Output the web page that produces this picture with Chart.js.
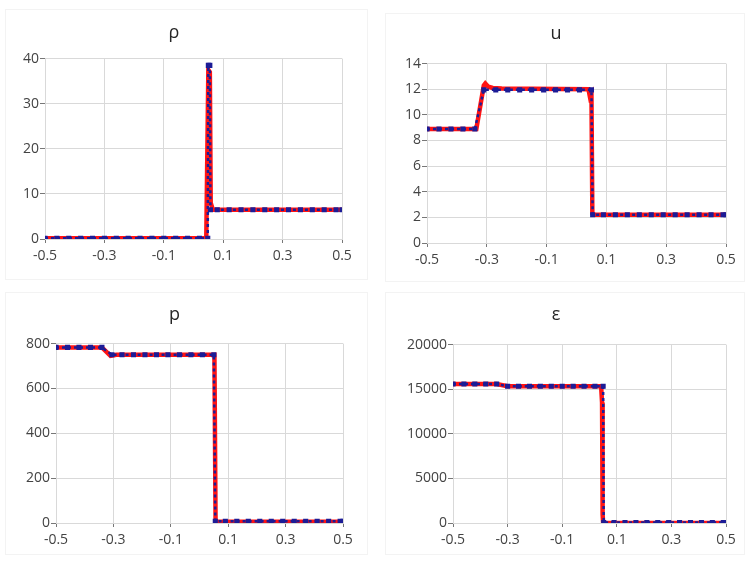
<!DOCTYPE html>
<html>
<head>
<meta charset="utf-8">
<script src="https://cdn.jsdelivr.net/npm/chart.js@4.4.1/dist/chart.umd.min.js"></script>
<style>
  body { margin: 0; background: #fff; width: 748px; height: 562px; position: relative; overflow: hidden; }
  .panel { position: absolute; border: 1px solid #f3f3f3; box-sizing: border-box; }
</style>
</head>
<body>
<div class="panel" style="left:5px;top:9px;width:363px;height:271px"><canvas id="rhoChart"></canvas></div>
<div class="panel" style="left:385px;top:13px;width:360px;height:269px"><canvas id="uChart"></canvas></div>
<div class="panel" style="left:5px;top:292px;width:363px;height:263px"><canvas id="pChart"></canvas></div>
<div class="panel" style="left:385px;top:292px;width:360px;height:263px"><canvas id="eChart"></canvas></div>
<script>
const xTicks = [-0.5, -0.3, -0.1, 0.1, 0.3, 0.5];

// density
const rhoNumX = [-0.5, 0.043, 0.05, 0.055, 0.058, 0.065, 0.5];
const rhoNumY = [0.15, 0.15, 37.5, 37, 8, 6.5, 6.5];
const rhoExactX = [-0.5, -0.46, -0.42, -0.38, -0.34, -0.3, -0.26, -0.22, -0.18, -0.14, -0.1, -0.06, -0.02, 0.02, 0.048,
                   0.05, 0.055, 0.057, 0.08, 0.12, 0.16, 0.2, 0.24, 0.28, 0.32, 0.36, 0.4, 0.44, 0.48, 0.5];
const rhoExactY = [0.15, 0.15, 0.15, 0.15, 0.15, 0.15, 0.15, 0.15, 0.15, 0.15, 0.15, 0.15, 0.15, 0.15, 0.15,
                   38.5, 38.5, 6.5, 6.5, 6.5, 6.5, 6.5, 6.5, 6.5, 6.5, 6.5, 6.5, 6.5, 6.5, 6.5];

// velocity
const uNumX = [-0.5, -0.335, -0.31, -0.305, -0.295, -0.28, -0.25, 0.04, 0.045, 0.05, 0.053, 0.06, 0.5];
const uNumY = [8.9, 8.9, 12.3, 12.45, 12.2, 12.1, 12.05, 12.0, 11.4, 11.6, 2.3, 2.2, 2.2];
const uExactX = [-0.5, -0.46, -0.42, -0.38, -0.34, -0.31, -0.27, -0.23, -0.19, -0.15, -0.11, -0.07, -0.03, 0.01,
                 0.05, 0.054, 0.09, 0.13, 0.17, 0.21, 0.25, 0.29, 0.33, 0.37, 0.41, 0.45, 0.49, 0.5];
const uExactY = [8.9, 8.9, 8.9, 8.9, 8.9, 11.95, 11.95, 11.95, 11.95, 11.95, 11.95, 11.95, 11.95, 11.95,
                 11.95, 2.2, 2.2, 2.2, 2.2, 2.2, 2.2, 2.2, 2.2, 2.2, 2.2, 2.2, 2.2, 2.2];

// pressure
const pNumX = [-0.5, -0.34, -0.31, -0.29, 0.052, 0.056, 0.5];
const pNumY = [783, 783, 745, 750, 750, 6, 6];
const pExactX = [-0.5, -0.46, -0.42, -0.38, -0.34, -0.305, -0.27, -0.23, -0.19, -0.15, -0.11, -0.07, -0.03, 0.01,
                 0.05, 0.055, 0.09, 0.13, 0.17, 0.21, 0.25, 0.29, 0.33, 0.37, 0.41, 0.45, 0.49, 0.5];
const pExactY = [783, 783, 783, 783, 783, 750, 750, 750, 750, 750, 750, 750, 750, 750,
                 750, 8, 8, 8, 8, 8, 8, 8, 8, 8, 8, 8, 8, 8];

// internal energy
const eNumX = [-0.5, -0.34, -0.3, 0.038, 0.043, 0.046, 0.048, 0.05, 0.5];
const eNumY = [15580, 15580, 15330, 15330, 15100, 13500, 1000, 0, 0];
const eExactX = [-0.5, -0.46, -0.42, -0.38, -0.34, -0.3, -0.26, -0.22, -0.18, -0.14, -0.1, -0.06, -0.02, 0.02,
                 0.05, 0.052, 0.09, 0.13, 0.17, 0.21, 0.25, 0.29, 0.33, 0.37, 0.41, 0.45, 0.49, 0.5];
const eExactY = [15580, 15580, 15580, 15580, 15580, 15330, 15330, 15330, 15330, 15330, 15330, 15330, 15330, 15330,
                 15330, 60, 60, 60, 60, 60, 60, 60, 60, 60, 60, 60, 60, 60];

const tickFont = { family: 'Open Sans', size: 14 };
const tickColor = '#434343';
const gridColor = '#d9d9d9';

function makeChart(id, title, numX, numY, exX, exY, yMax, yStep, box) {
    new Chart(document.getElementById(id), {
        type: 'line',
        data: {
            datasets: [{
                label: 'exact',
                data: exX.map((x, i) => ({ x: x, y: exY[i] })),
                borderColor: '#1c1c96',
                backgroundColor: '#1c1c96',
                borderWidth: 2.5,
                borderDash: [3, 3],
                pointStyle: 'rect',
                pointRadius: 3.6,
                pointBorderWidth: 0,
                order: 0
            },
            {
                label: 'numerical',
                data: numX.map((x, i) => ({ x: x, y: numY[i] })),
                borderColor: '#ff1414',
                backgroundColor: '#ff1414',
                borderWidth: 4.5,
                pointRadius: 0,
                order: 1
            }]
        },
        options: {
            responsive: true,
            maintainAspectRatio: false,
            animation: false,
            layout: { padding: { left: 0, right: box.right, top: 0, bottom: 0 } },
            plugins: {
                legend: { display: false },
                tooltip: { enabled: false },
                title: {
                    display: true,
                    text: title,
                    color: '#262626',
                    font: { family: 'Open Sans', size: 18, weight: 'normal', lineHeight: 1.2 },
                    padding: { top: box.tTop, bottom: box.tBottom }
                }
            },
            scales: {
                x: {
                    type: 'linear',
                    min: -0.5,
                    max: 0.5,
                    afterBuildTicks: (s) => { s.ticks = xTicks.map(v => ({ value: v })); },
                    afterFit: (s) => { s.height = box.xh; },
                    ticks: {
                        font: tickFont, color: tickColor, padding: 5, maxRotation: 0,
                        callback: (v) => v.toFixed(1)
                    },
                    grid: { color: gridColor, tickLength: 4, tickColor: '#777' },
                    border: { color: gridColor }
                },
                y: {
                    min: 0,
                    max: yMax,
                    afterFit: (s) => { s.width = box.yw; },
                    ticks: {
                        stepSize: yStep, font: tickFont, color: tickColor, padding: 1,
                        callback: (v) => String(v)
                    },
                    grid: { color: gridColor, tickLength: 5, tickColor: '#777' },
                    border: { color: gridColor }
                }
            }
        }
    });
}

makeChart('rhoChart', 'ρ', rhoNumX, rhoNumY, rhoExactX, rhoExactY, 40, 10,
    { yw: 39, xh: 40, right: 25, tTop: 12, tBottom: 15 });
makeChart('uChart', 'u', uNumX, uNumY, uExactX, uExactY, 14, 2,
    { yw: 41, xh: 38, right: 18, tTop: 9, tBottom: 19 });
makeChart('pChart', 'p', pNumX, pNumY, pExactX, pExactY, 800, 200,
    { yw: 50, xh: 31, right: 24, tTop: 11, tBottom: 18 });
makeChart('eChart', 'ε', eNumX, eNumY, eExactX, eExactY, 20000, 5000,
    { yw: 67, xh: 31, right: 18, tTop: 11, tBottom: 19 });
</script>
</body>
</html>
